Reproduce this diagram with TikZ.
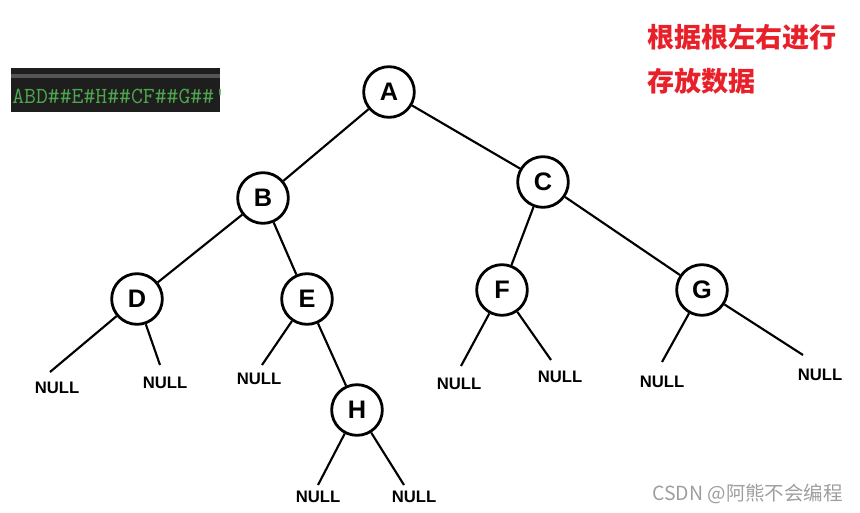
\documentclass[tikz,border=0pt]{standalone}
\usepackage{fontspec}
\setmainfont{Liberation Sans}
\newfontfamily\cjk{Noto Sans CJK SC}
\definecolor{redtxt}{HTML}{E8202A}
\definecolor{codebg}{HTML}{1E1E1E}
\definecolor{codegreen}{HTML}{4EA64E}
\definecolor{stripe}{HTML}{555555}
\begin{document}
\begin{tikzpicture}[x=0.75pt,y=-0.75pt,
  tnode/.style={circle,draw,line width=2.1pt,minimum size=38pt,inner sep=0pt,font=\fontsize{19}{19}\selectfont\bfseries},
  edge/.style={line width=1.6pt},
  nulltxt/.style={font=\fontsize{12.5}{12.5}\selectfont\bfseries,inner sep=0pt}]
\useasboundingbox (0,0) rectangle (860,513);
% code box
\fill[codebg] (11,68) rectangle (220,112);
\fill[stripe] (11,74) rectangle (220,78);
\begin{scope}
\clip (11,68) rectangle (220,112);
\node[anchor=base west,inner sep=0pt,text=codegreen,font=\ttfamily\fontsize{17.3}{17.3}\selectfont] (code) at (12,104) {ABD\#\#E\#H\#\#CF\#\#G\#\#'};
\end{scope}
% title
\node[anchor=west,inner sep=0pt,text=redtxt,font=\cjk\bfseries\fontsize{20.3}{20.3}\selectfont] (t1) at (647,37) {根据根左右进行};
\node[anchor=west,inner sep=0pt,text=redtxt,font=\cjk\bfseries\fontsize{20.3}{20.3}\selectfont] (t2) at (647,81) {存放数据};
% watermark
\node[anchor=west,inner sep=0pt,text=black!38,font=\cjk\fontsize{14.6}{14.6}\selectfont] (wm) at (652,494) {CSDN @阿熊不会编程};
% nodes
\node[tnode] (A) at (389,92) {A};
\node[tnode] (B) at (263,198) {B};
\node[tnode] (C) at (543,182) {C};
\node[tnode] (D) at (137,299) {D};
\node[tnode] (E) at (307,299) {E};
\node[tnode] (F) at (502,290) {F};
\node[tnode] (G) at (702,290) {G};
\node[tnode] (H) at (357,410) {H};
% null end points
\coordinate (d1) at (50,372);
\coordinate (d2) at (160,365);
\coordinate (e1) at (262,365);
\coordinate (f1) at (461,366);
\coordinate (f2) at (551,360);
\coordinate (g1) at (662,362);
\coordinate (g2) at (803,355);
\coordinate (h1) at (318,485);
\coordinate (h2) at (404,485);
% edges
\draw[edge] (A) -- (B);
\draw[edge] (A) -- (C);
\draw[edge] (B) -- (D);
\draw[edge] (B) -- (E);
\draw[edge] (C) -- (F);
\draw[edge] (C) -- (G);
\draw[edge] (E) -- (H);
\draw[edge] (D) -- (d1);
\draw[edge] (D) -- (d2);
\draw[edge] (E) -- (e1);
\draw[edge] (F) -- (f1);
\draw[edge] (F) -- (f2);
\draw[edge] (G) -- (g1);
\draw[edge] (G) -- (g2);
\draw[edge] (H) -- (h1);
\draw[edge] (H) -- (h2);
% NULL labels
\node[nulltxt] (n1) at (57,388) {NULL};
\node[nulltxt] (n2) at (165,383) {NULL};
\node[nulltxt] (n3) at (259,379) {NULL};
\node[nulltxt] (n4) at (459,384) {NULL};
\node[nulltxt] (n5) at (560,377) {NULL};
\node[nulltxt] (n6) at (662,382) {NULL};
\node[nulltxt] (n7) at (820,375) {NULL};
\node[nulltxt] (n8) at (318,497) {NULL};
\node[nulltxt] (n9) at (414,497) {NULL};
\end{tikzpicture}
\end{document}
